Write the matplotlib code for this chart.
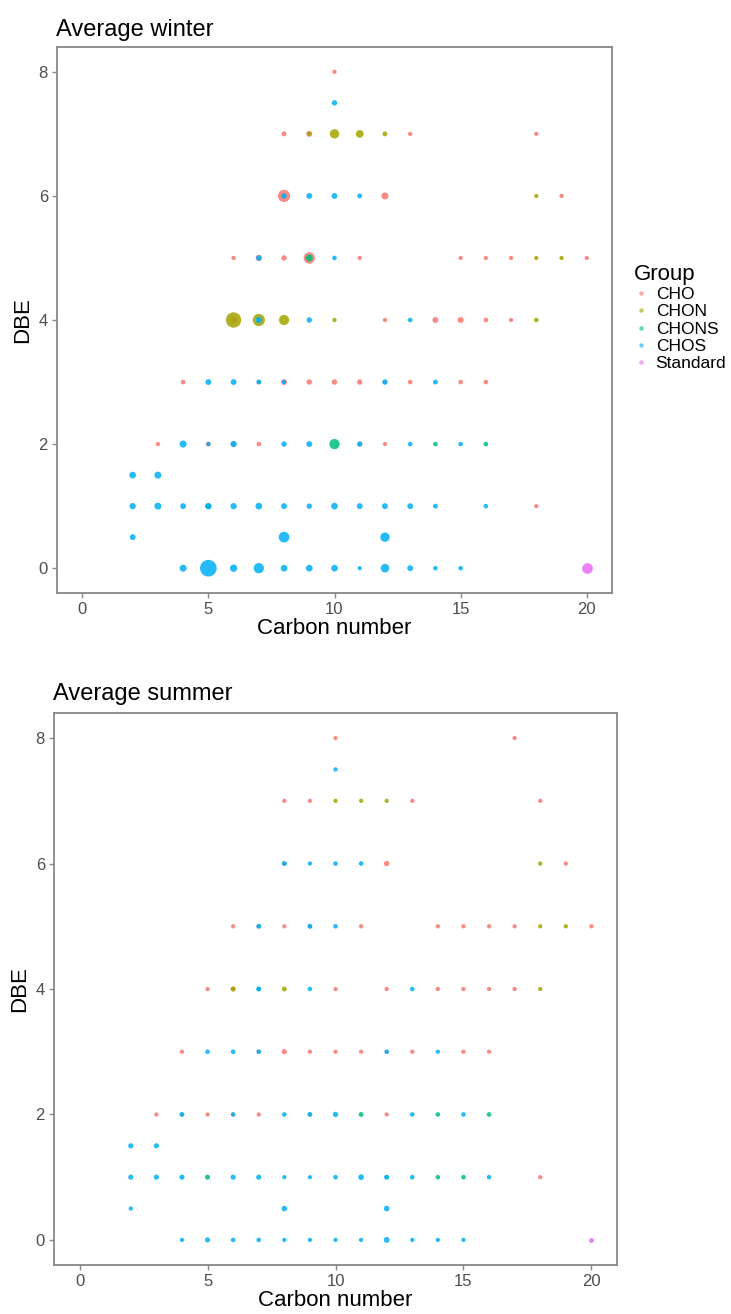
import numpy as np
import matplotlib
matplotlib.use("Agg")
from matplotlib import pyplot as plt
from matplotlib.lines import Line2D

plt.rcParams["font.family"] = ["Liberation Sans", "DejaVu Sans"]

groups = ["CHO", "CHON", "CHONS", "CHOS", "Standard"]
group_colors = ["#F8766D", "#A3A500", "#00BF7D", "#00B0F6", "#E76BF3"]

# winter: carbon number, DBE, group, relative abundance
winter_c = [10, 10,
            8, 9, 9, 10, 11, 12, 13, 18,
            8, 8, 9, 10, 11, 12, 18, 19,
            6, 7, 7, 8, 9, 9, 10, 11, 15, 16, 17, 18, 19, 20,
            6, 6, 7, 7, 8, 9, 10, 12, 13, 14, 15, 16, 17, 18,
            4, 5, 6, 7, 7, 8, 8, 9, 10, 11, 12, 12, 13, 14, 15, 16,
            3, 4, 5, 5, 6, 6, 7, 8, 9, 10, 11, 11, 12, 13, 14, 15, 16,
            2, 3,
            2, 3, 4, 5, 5, 6, 7, 8, 9, 10, 11, 12, 13, 14, 16, 18,
            2, 8, 12,
            4, 5, 6, 7, 8, 9, 10, 11, 12, 13, 14, 15, 20]
winter_dbe = [8, 7.5,
              7, 7, 7, 7, 7, 7, 7, 7,
              6, 6, 6, 6, 6, 6, 6, 6,
              5, 5, 5, 5, 5, 5, 5, 5, 5, 5, 5, 5, 5, 5,
              4, 4, 4, 4, 4, 4, 4, 4, 4, 4, 4, 4, 4, 4,
              3, 3, 3, 3, 3, 3, 3, 3, 3, 3, 3, 3, 3, 3, 3, 3,
              2, 2, 2, 2, 2, 2, 2, 2, 2, 2, 2, 2, 2, 2, 2, 2, 2,
              1.5, 1.5,
              1, 1, 1, 1, 1, 1, 1, 1, 1, 1, 1, 1, 1, 1, 1, 1,
              0.5, 0.5, 0.5,
              0, 0, 0, 0, 0, 0, 0, 0, 0, 0, 0, 0, 0]
winter_grp = ["CHO", "CHOS",
              "CHO", "CHO", "CHON", "CHON", "CHON", "CHON", "CHO", "CHO",
              "CHO", "CHOS", "CHOS", "CHOS", "CHOS", "CHO", "CHON", "CHO",
              "CHO", "CHO", "CHOS", "CHO", "CHO", "CHONS", "CHOS", "CHO", "CHO", "CHO", "CHO", "CHON", "CHON", "CHO",
              "CHON", "CHO", "CHON", "CHOS", "CHON", "CHOS", "CHON", "CHO", "CHOS", "CHO", "CHO", "CHO", "CHO", "CHON",
              "CHO", "CHOS", "CHOS", "CHO", "CHOS", "CHO", "CHOS", "CHO", "CHO", "CHO", "CHO", "CHOS", "CHO", "CHOS", "CHO", "CHO",
              "CHO", "CHOS", "CHO", "CHOS", "CHO", "CHOS", "CHO", "CHOS", "CHOS", "CHONS", "CHOS", "CHO", "CHO", "CHOS", "CHONS", "CHOS", "CHONS",
              "CHOS", "CHOS",
              "CHOS", "CHOS", "CHOS", "CHOS", "CHONS", "CHOS", "CHOS", "CHOS", "CHOS", "CHOS", "CHOS", "CHOS", "CHOS", "CHOS", "CHOS", "CHO",
              "CHOS", "CHOS", "CHOS",
              "CHOS", "CHOS", "CHOS", "CHOS", "CHOS", "CHOS", "CHOS", "CHOS", "CHOS", "CHOS", "CHOS", "CHOS", "Standard"]
winter_ab = [0.2, 0.4,
             0.3, 0.5, 0.2, 1.6, 1.0, 0.3, 0.2, 0.2,
             3.0, 0.4, 0.5, 0.5, 0.3, 0.8, 0.2, 0.2,
             0.2, 0.6, 0.4, 0.4, 2.5, 0.8, 0.25, 0.2, 0.2, 0.2, 0.2, 0.2, 0.2, 0.2,
             5.0, 0.6, 3.0, 0.6, 2.0, 0.4, 0.2, 0.2, 0.25, 0.5, 0.5, 0.25, 0.2, 0.25,
             0.25, 0.5, 0.5, 0.2, 0.3, 0.5, 0.2, 0.4, 0.4, 0.4, 0.2, 0.4, 0.25, 0.3, 0.25, 0.25,
             0.2, 0.8, 0.3, 0.2, 0.4, 0.6, 0.25, 0.4, 0.5, 2.0, 0.4, 0.2, 0.2, 0.25, 0.25, 0.25, 0.25,
             0.7, 0.8,
             0.6, 0.8, 0.5, 0.5, 0.6, 0.6, 0.7, 0.5, 0.4, 0.7, 0.5, 0.5, 0.5, 0.3, 0.25, 0.2,
             0.5, 2.2, 1.6,
             0.8, 6.0, 0.9, 2.0, 0.7, 0.7, 0.7, 0.2, 1.3, 0.5, 0.25, 0.25, 2.2]

# summer
summer_c = [10, 17, 10,
            8, 9, 10, 11, 12, 13, 18,
            8, 8, 9, 10, 11, 12, 18, 19,
            6, 7, 7, 8, 9, 9, 10, 11, 14, 15, 16, 17, 18, 19, 20,
            5, 6, 6, 7, 7, 8, 9, 10, 12, 13, 14, 15, 16, 17, 18,
            4, 5, 6, 7, 7, 8, 9, 10, 11, 12, 12, 13, 14, 15, 16,
            3, 4, 4, 5, 6, 6, 7, 8, 9, 9, 10, 11, 12, 13, 14, 15, 16,
            2, 3,
            2, 3, 4, 5, 6, 7, 8, 9, 10, 11, 12, 12, 13, 14, 15, 16, 18,
            2, 8, 12,
            4, 5, 6, 7, 8, 9, 10, 11, 12, 13, 14, 15, 20]
summer_dbe = [8, 8, 7.5,
              7, 7, 7, 7, 7, 7, 7,
              6, 6, 6, 6, 6, 6, 6, 6,
              5, 5, 5, 5, 5, 5, 5, 5, 5, 5, 5, 5, 5, 5, 5,
              4, 4, 4, 4, 4, 4, 4, 4, 4, 4, 4, 4, 4, 4, 4,
              3, 3, 3, 3, 3, 3, 3, 3, 3, 3, 3, 3, 3, 3, 3,
              2, 2, 2, 2, 2, 2, 2, 2, 2, 2, 2, 2, 2, 2, 2, 2, 2,
              1.5, 1.5,
              1, 1, 1, 1, 1, 1, 1, 1, 1, 1, 1, 1, 1, 1, 1, 1, 1,
              0.5, 0.5, 0.5,
              0, 0, 0, 0, 0, 0, 0, 0, 0, 0, 0, 0, 0]
summer_grp = ["CHO", "CHO", "CHOS",
              "CHO", "CHO", "CHON", "CHON", "CHON", "CHO", "CHO",
              "CHO", "CHOS", "CHOS", "CHOS", "CHOS", "CHO", "CHON", "CHO",
              "CHO", "CHO", "CHOS", "CHO", "CHO", "CHOS", "CHOS", "CHO", "CHO", "CHO", "CHO", "CHO", "CHON", "CHON", "CHO",
              "CHO", "CHO", "CHON", "CHONS", "CHOS", "CHON", "CHOS", "CHO", "CHO", "CHOS", "CHO", "CHO", "CHO", "CHO", "CHON",
              "CHO", "CHOS", "CHOS", "CHO", "CHOS", "CHO", "CHO", "CHO", "CHO", "CHO", "CHOS", "CHO", "CHOS", "CHO", "CHO",
              "CHO", "CHO", "CHOS", "CHO", "CHO", "CHOS", "CHO", "CHOS", "CHO", "CHOS", "CHOS", "CHONS", "CHO", "CHOS", "CHONS", "CHOS", "CHONS",
              "CHOS", "CHOS",
              "CHOS", "CHOS", "CHOS", "CHONS", "CHOS", "CHOS", "CHOS", "CHOS", "CHOS", "CHOS", "CHONS", "CHOS", "CHOS", "CHONS", "CHONS", "CHOS", "CHO",
              "CHOS", "CHOS", "CHOS",
              "CHOS", "CHOS", "CHOS", "CHOS", "CHOS", "CHOS", "CHOS", "CHOS", "CHOS", "CHOS", "CHOS", "CHOS", "Standard"]
summer_ab = [0.2, 0.2, 0.2,
             0.2, 0.2, 0.2, 0.2, 0.2, 0.2, 0.2,
             0.15, 0.3, 0.2, 0.25, 0.25, 0.4, 0.2, 0.2,
             0.2, 0.2, 0.3, 0.2, 0.2, 0.3, 0.25, 0.2, 0.2, 0.2, 0.2, 0.2, 0.2, 0.2, 0.2,
             0.2, 0.2, 0.35, 0.2, 0.3, 0.3, 0.25, 0.2, 0.2, 0.25, 0.2, 0.2, 0.2, 0.2, 0.2,
             0.2, 0.25, 0.25, 0.15, 0.25, 0.35, 0.2, 0.2, 0.2, 0.15, 0.25, 0.2, 0.2, 0.2, 0.2,
             0.2, 0.15, 0.3, 0.2, 0.25, 0.2, 0.2, 0.25, 0.15, 0.3, 0.4, 0.3, 0.2, 0.25, 0.25, 0.25, 0.25,
             0.35, 0.35,
             0.35, 0.35, 0.35, 0.35, 0.35, 0.35, 0.2, 0.2, 0.25, 0.45, 0.2, 0.3, 0.25, 0.25, 0.25, 0.25, 0.2,
             0.2, 0.4, 0.45,
             0.2, 0.35, 0.25, 0.25, 0.2, 0.2, 0.2, 0.2, 0.5, 0.2, 0.2, 0.2, 0.3]

W, H = 731, 1314
fig = plt.figure(figsize=(W / 100, H / 100), dpi=100)


def px_box(left, top, right, bottom):
    return [left / W, 1 - bottom / H, (right - left) / W, (bottom - top) / H]


def marker_area(ab):
    d_px = 1.5 + 6.2 * np.sqrt(np.asarray(ab, dtype=float))
    return (d_px * 0.72) ** 2


def draw_panel(ax, c, dbe, grp, ab, title, title_y):
    c = np.asarray(c)
    dbe = np.asarray(dbe)
    grp = np.asarray(grp)
    ab = np.asarray(ab)
    for g, col in zip(groups, group_colors):
        m = grp == g
        ax.scatter(c[m], dbe[m], s=marker_area(ab[m]), color=col, alpha=0.85,
                   linewidths=0, zorder=3)
    ax.set_xlim(-1, 21)
    ax.set_ylim(-0.4, 8.4)
    ax.set_xticks([0, 5, 10, 15, 20])
    ax.set_yticks([0, 2, 4, 6, 8])
    for s in ax.spines.values():
        s.set_color("#888888")
        s.set_linewidth(1.3)
    ax.tick_params(colors="#888888", labelcolor="#4D4D4D", labelsize=12,
                   length=3.5, width=1.0, pad=3)
    ax.set_xlabel("Carbon number", fontsize=16, labelpad=1)
    ax.set_ylabel("DBE", fontsize=16, labelpad=4)
    fig.text(ax.get_position().x0 - 0.002, 1 - title_y / H, title, fontsize=17,
             ha="left", va="baseline")


ax1 = fig.add_axes(px_box(57, 47, 612, 593))
draw_panel(ax1, winter_c, winter_dbe, winter_grp, winter_ab, "Average winter", 36)

ax2 = fig.add_axes(px_box(54, 713, 617, 1265))
draw_panel(ax2, summer_c, summer_dbe, summer_grp, summer_ab, "Average summer", 700)

handles = [Line2D([], [], marker="o", linestyle="", markersize=3.2, color=col,
                  alpha=0.6, markeredgewidth=0) for col in group_colors]
leg = fig.legend(handles, groups, title="Group", loc="upper left",
                 bbox_to_anchor=(627 / W, 1 - 257 / H), frameon=False,
                 fontsize=12.5, title_fontsize=16, labelspacing=0.12,
                 handlelength=0.8, handletextpad=0.45, borderaxespad=0)
leg._legend_box.align = "left"

fig.savefig("out.png", dpi=100)
